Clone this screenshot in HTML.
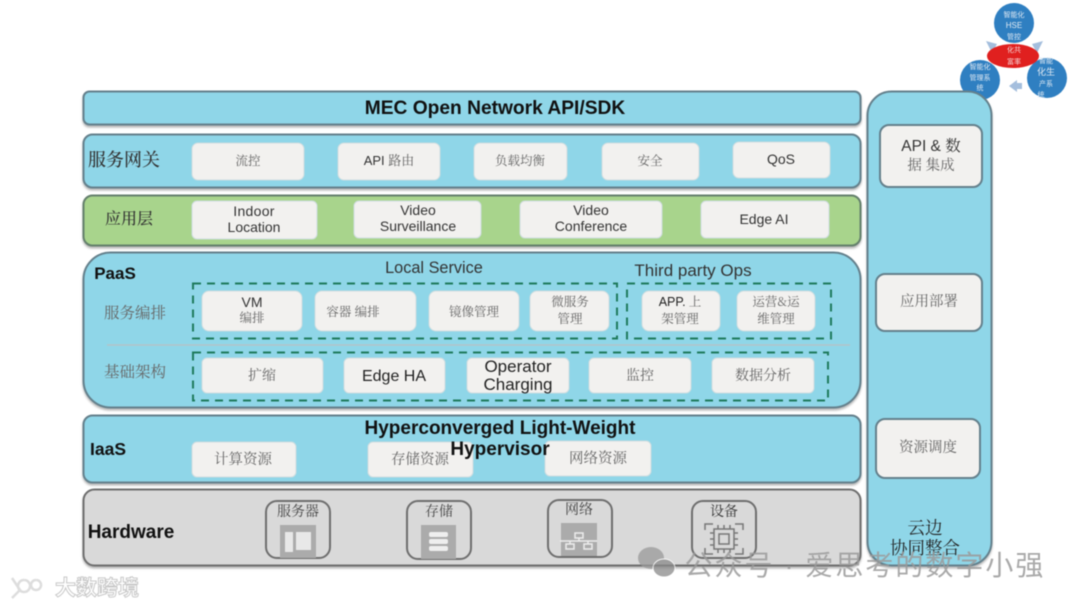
<!DOCTYPE html>
<html><head><meta charset="utf-8"><style>
html,body{margin:0;padding:0;background:#fff;width:1080px;height:608px;overflow:hidden}
svg{display:block;filter:blur(.4px)}
text{font-family:"Liberation Sans","Noto Sans CJK SC",sans-serif;text-anchor:middle;fill:#333}
.b{font-weight:bold;fill:#111}
.s{font-family:"Noto Serif CJK SC","Liberation Serif",serif;fill:#666}
.l{fill:#8fd6e8;stroke:#64808c;stroke-width:2;filter:drop-shadow(0 2px 1px #b5b5b5)}
.w{fill:#f2f1ef;stroke:#cfdde0;stroke-width:1}
.r{fill:#f2f1ef;stroke:#64808c;stroke-width:2}
.d{fill:none;stroke:#1f7a5c;stroke-width:2;stroke-dasharray:8 6}
.h{fill:none;stroke:#6e6e6e;stroke-width:2}
</style></head><body>
<svg width="1080" height="608" viewBox="0 0 1080 608" xmlns="http://www.w3.org/2000/svg">
<!-- top-right cluster -->
<circle cx="1014" cy="23" r="20" fill="#2f7fc1"/>
<circle cx="980" cy="80" r="20" fill="#2f7fc1"/>
<circle cx="1047" cy="78" r="20" fill="#2f7fc1"/>
<path d="M986 41l11 3-5 9zM1043 41l-11 3 5 9zM1009 86l8-6v3h5v6h-5v3z" fill="#a4bedd"/>
<ellipse cx="1013" cy="56" rx="26" ry="12" fill="#e0201f"/>
<g font-size="7">
<text x="1014" y="17" style="fill:#dfe9f3">智能化</text><text x="1014" y="28" font-size="8" style="fill:#dfe9f3">HSE</text><text x="1014" y="39" style="fill:#dfe9f3">管控</text>
<text x="1014" y="52" style="fill:#f5d8d8">化共</text><text x="1014" y="64" style="fill:#f5d8d8">富率</text>
<text x="980" y="69" style="fill:#dfe9f3">智能化</text><text x="980" y="80" style="fill:#dfe9f3">管理系</text><text x="980" y="90" style="fill:#dfe9f3">统</text>
<text x="1046" y="63" style="fill:#dfe9f3">智能</text><text x="1046" y="75" font-size="9" style="fill:#dfe9f3">化生</text><text x="1046" y="86" style="fill:#dfe9f3">产系</text><text x="1041" y="97" style="fill:#dfe9f3">统</text>
</g>

<!-- layers -->
<rect class="l" x="83.500" y="91.500" width="777" height="33" rx="6"/>
<text class="b" x="495" y="114" font-size="19.200">MEC Open Network API/SDK</text>

<rect class="l" x="83.500" y="134.500" width="777" height="53" rx="9"/>
<text x="124" y="166" font-size="18" class="s" style="fill:#333;font-weight:500">服务网关</text>
<rect class="w" x="192" y="143" width="112" height="37" rx="6"/><text class="s" x="248" y="165" font-size="12.500">流控</text>
<rect class="w" x="338" y="143" width="102" height="37" rx="6"/><text x="389" y="165" font-size="13">API <tspan class="s">路由</tspan></text>
<rect class="w" x="474" y="143" width="93" height="37" rx="6"/><text class="s" x="520" y="165" font-size="12.500">负载均衡</text>
<rect class="w" x="602" y="143" width="97" height="37" rx="6"/><text class="s" x="650" y="165" font-size="12.500">安全</text>
<rect class="w" x="733" y="142" width="97" height="36" rx="6"/><text x="781" y="164" font-size="14">QoS</text>

<rect x="83.500" y="195.500" width="777" height="50" rx="9" fill="#a8d48c" stroke="#64806c" stroke-width="2" style="filter:drop-shadow(0 2px 1px #b5b5b5)"/>
<text x="129" y="224" font-size="16" class="s" style="fill:#333;font-weight:500">应用层</text>
<rect class="w" x="192" y="201" width="125" height="38" rx="5"/><text x="254" y="216" font-size="14" letter-spacing=".3">Indoor</text><text x="254" y="232" font-size="14">Location</text>
<rect class="w" x="354" y="201" width="127" height="37" rx="5"/><text x="418" y="215" font-size="14">Video</text><text x="418" y="231" font-size="14">Surveillance</text>
<rect class="w" x="520" y="201" width="142" height="37" rx="5"/><text x="591" y="215" font-size="14">Video</text><text x="591" y="231" font-size="14">Conference</text>
<rect class="w" x="701" y="201" width="128" height="37" rx="5"/><text x="764" y="224" font-size="14">Edge AI</text>

<rect class="l" x="83.500" y="252.500" width="777" height="155" rx="27"/>
<text class="b" x="115" y="279" font-size="17">PaaS</text>
<text x="434" y="273" font-size="16.300">Local Service</text>
<text x="693" y="276" font-size="17">Third party Ops</text>
<text class="s" x="135" y="318" font-size="15.500">服务编排</text>
<text class="s" x="135" y="377" font-size="15.500">基础架构</text>
<line x1="107" y1="345" x2="850" y2="345" stroke="#b4c4c8" stroke-width="1.500"/>

<rect class="d" x="193" y="283.500" width="424" height="55"/>
<rect class="d" x="627" y="283.500" width="204" height="55"/>
<rect class="d" x="193" y="352.500" width="635" height="48"/>

<rect class="w" x="202" y="291" width="100" height="40" rx="7"/><text x="252" y="307" font-size="14">VM</text><text class="s" x="252" y="322" font-size="12.500">编排</text>
<rect class="w" x="315" y="291" width="101" height="40" rx="7"/><text class="s" x="353" y="316" font-size="12.500">容器 编排</text>
<rect class="w" x="429" y="291" width="90" height="40" rx="7"/><text class="s" x="474" y="316" font-size="12.500">镜像管理</text>
<rect class="w" x="530" y="291" width="79" height="40" rx="7"/><text class="s" x="570" y="306" font-size="12.500">微服务</text><text class="s" x="570" y="323" font-size="12.500">管理</text>
<rect class="w" x="642" y="291" width="78" height="40" rx="7"/><text x="680" y="306" font-size="12.500"><tspan style="font-weight:500;fill:#222">APP.</tspan><tspan class="s"> 上</tspan></text><text class="s" x="680" y="323" font-size="12.500">架管理</text>
<rect class="w" x="737" y="291" width="78" height="40" rx="7"/><text class="s" x="776" y="306" font-size="12.500">运营&amp;运</text><text class="s" x="776" y="323" font-size="12.500">维管理</text>

<rect class="w" x="202" y="358" width="121" height="35" rx="5"/><text class="s" x="262" y="380" font-size="14">扩缩</text>
<rect class="w" x="344" y="358" width="101" height="35" rx="5"/><text x="394" y="381" font-size="16" style="fill:#222">Edge HA</text>
<rect class="w" x="467" y="358" width="102" height="35" rx="5"/><text x="518" y="372" font-size="17" style="fill:#222">Operator</text><text x="518" y="390" font-size="17" style="fill:#222">Charging</text>
<rect class="w" x="589" y="358" width="102" height="35" rx="5"/><text class="s" x="640" y="380" font-size="14">监控</text>
<rect class="w" x="712" y="358" width="102" height="35" rx="5"/><text class="s" x="763" y="380" font-size="14">数据分析</text>

<rect class="l" x="83.500" y="415.500" width="777" height="67" rx="9"/>
<rect class="w" x="192" y="442" width="104" height="35" rx="5"/><text class="s" x="243" y="464" font-size="14.500">计算资源</text>
<rect class="w" x="368" y="442" width="105" height="35" rx="5"/><text class="s" x="420" y="464" font-size="14.500">存储资源</text>
<rect class="w" x="545" y="441" width="106" height="35" rx="5"/><text class="s" x="598" y="463" font-size="14.500">网络资源</text>
<text class="b" x="108" y="455" font-size="17.500">IaaS</text>
<text class="b" x="500" y="434" font-size="19">Hyperconverged Light-Weight</text>
<text class="b" x="500" y="455" font-size="19">Hypervisor</text>

<rect x="83.500" y="489.500" width="777" height="76" rx="11" fill="#d9d9d9" stroke="#6e6e6e" stroke-width="2" style="filter:drop-shadow(0 2px 1px #b5b5b5)"/>
<text class="b" x="131" y="538" font-size="19">Hardware</text>

<rect class="h" x="266" y="501" width="64" height="57" rx="11"/>
<text class="s" x="298" y="516" font-size="14" style="fill:#444">服务器</text>
<rect x="280" y="525" width="36" height="33" fill="#ababab"/>
<rect x="285" y="532" width="8" height="20" fill="#e8e8e8"/><rect x="296" y="532" width="15" height="18" fill="#e8e8e8"/>

<rect class="h" x="407" y="501" width="64" height="58" rx="11"/>
<text class="s" x="439" y="516" font-size="14" style="fill:#444">存储</text>
<rect x="421" y="525" width="35" height="34" fill="#ababab"/>
<rect x="429" y="532" width="19" height="5" rx="2" fill="#eee"/><rect x="429" y="539" width="19" height="5" rx="2" fill="#eee"/><rect x="429" y="546" width="19" height="5" rx="2" fill="#eee"/>

<rect class="h" x="548" y="500" width="64" height="57" rx="11"/>
<text class="s" x="579" y="514" font-size="14" style="fill:#444">网络</text>
<rect x="561" y="523" width="36" height="33" fill="#ababab"/>
<g fill="none" stroke="#eee" stroke-width="1.500"><rect x="575" y="533" width="8" height="5"/><rect x="566" y="544" width="8" height="5"/><rect x="584" y="544" width="8" height="5"/><path d="M560 541h37M570 541v3M579 538v3M588 541v3"/></g>

<rect class="h" x="692" y="501" width="64" height="57" rx="11"/>
<text class="s" x="724" y="516" font-size="14" style="fill:#333">设备</text>
<g fill="none" stroke="#777" stroke-width="1.500"><path d="M705 530v-6h8M743 530v-6h-8M705 548v6h8M743 548v6h-8"/><rect x="714" y="529" width="20" height="20"/><rect x="719" y="534" width="10" height="10"/><path d="M718 525v4M724 525v4M730 525v4M718 549v4M724 549v4M730 549v4M710 533h4M710 539h4M710 545h4M734 533h4M734 539h4M734 545h4"/></g>

<!-- right column -->
<rect class="l" x="867.500" y="91.500" width="124" height="474" rx="24"/>
<rect class="r" x="880" y="125" width="102" height="62" rx="9"/>
<text x="931" y="151" font-size="15.500">API &amp; <tspan class="s" style="fill:#333">数</tspan></text><text class="s" x="931" y="170" font-size="14.500">据 集成</text>
<rect class="r" x="876" y="274" width="106" height="57" rx="9"/><text class="s" x="929" y="306" font-size="14.500">应用部署</text>
<rect class="r" x="876" y="419" width="104" height="59" rx="9"/><text class="s" x="928" y="452" font-size="14.500">资源调度</text>
<text class="s" x="925" y="534" font-size="17.500" style="fill:#222">云边</text>
<text class="s" x="925" y="554" font-size="17.500" style="fill:#222">协同整合</text>

<!-- watermarks -->
<g opacity=".75">
<ellipse cx="651" cy="558" rx="13" ry="11" fill="#9a9a9a"/><ellipse cx="664" cy="568" rx="11" ry="9" fill="#8a8a8a" stroke="#fff" stroke-width="1"/>
</g>
<text x="865" y="575" font-size="28" style="fill:#9b9b9b;letter-spacing:2px;opacity:.85">公众号 · 爱思考的数字小强</text>
<g fill="none" stroke="#ddd" stroke-width="2.500"><path d="M12 578l8 12-8 8M24 580a6 6 0 1 0 .1 0M36 580a5 5 0 1 0 .1 0"/></g>
<text x="97" y="595" font-size="21" style="fill:#fff;stroke:#c8c8c8;stroke-width:1;font-weight:bold">大数跨境</text>
</svg>
</body></html>
